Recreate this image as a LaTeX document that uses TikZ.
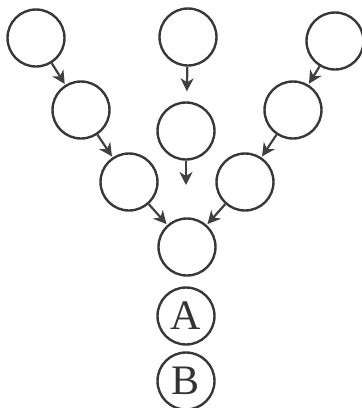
\documentclass[tikz,border=0pt]{standalone}
\usepackage{fontspec}
\setmainfont{Liberation Serif}
\usetikzlibrary{arrows.meta}

\begin{document}
\begin{tikzpicture}[
      x=0.5pt, y=-0.5pt,
      ring/.style={draw=black!78, circle, line width=1.2pt, inner sep=0pt, minimum size=28.5pt,
        font=\fontsize{21}{24}\selectfont, text=black!80},
      link/.style={draw=black!75, line width=1.1pt, shorten >=0.5pt},
      >={Stealth[length=6.5pt, width=6.5pt, inset=2pt]}
    ]
    \useasboundingbox (0,0) rectangle (362,408);

    % left branch
    \node[ring] (l1) at (36,38) {};
    \node[ring] (l2) at (81,110) {};
    \node[ring] (l3) at (129,182) {};
    % middle branch
    \node[ring] (m1) at (188,37) {};
    \node[ring] (m2) at (186,131) {};
    \coordinate (mend) at (186,186);
    % right branch
    \node[ring] (r1) at (335,41) {};
    \node[ring] (r2) at (293,110) {};
    \node[ring] (r3) at (245,182) {};
    % joined column
    \node[ring] (join) at (187,247) {};
    \node[ring] (a) at (186,316) {A};
    \node[ring] (b) at (186,381) {B};

    \draw[link, ->] (l1) -- (l2);
    \draw[link, ->] (l2) -- (l3);
    \draw[link, ->] (l3) -- (join);
    \draw[link, ->, shorten >=5pt] (m1) -- (m2);
    \draw[link, ->] (m2) -- (mend);
    \draw[link, ->] (r1) -- (r2);
    \draw[link, ->] (r2) -- (r3);
    \draw[link, ->] (r3) -- (join);
  \end{tikzpicture}
\end{document}
